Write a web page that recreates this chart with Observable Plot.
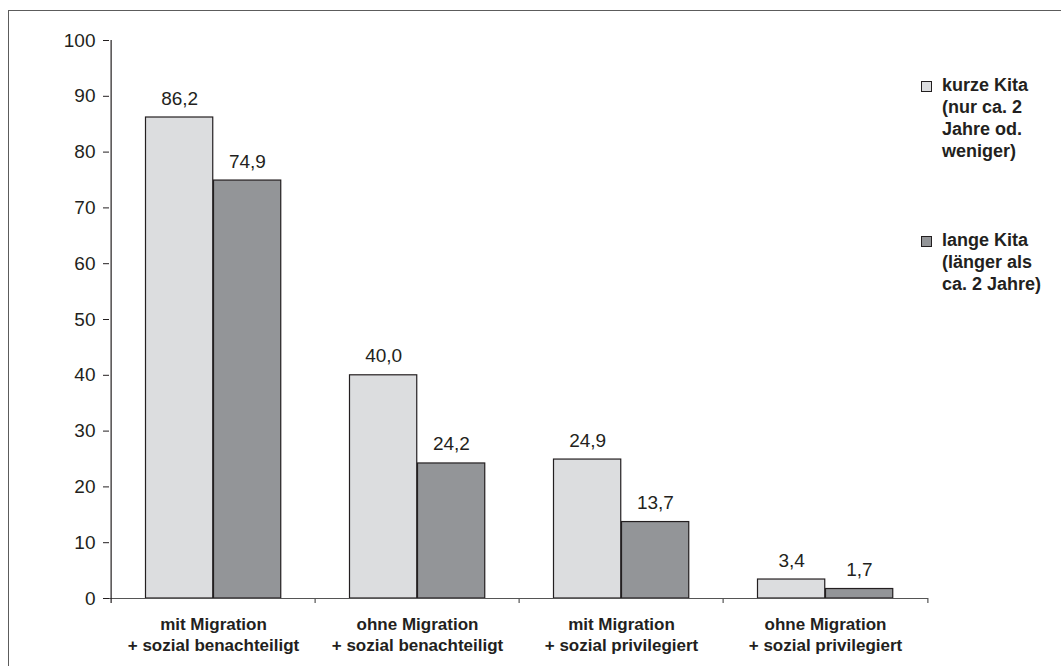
<!DOCTYPE html>
<html lang="de">
<head>
<meta charset="utf-8">
<script src="https://cdn.jsdelivr.net/npm/d3@7"></script>
<script src="https://cdn.jsdelivr.net/npm/@observablehq/plot@0.6"></script>
<style>
  html, body { margin: 0; padding: 0; background: #fff; overflow: hidden; }
  #wrap { position: relative; width: 1061px; height: 666px; }
  #border {
    position: absolute; left: 8px; top: 10px; width: 2000px; height: 2000px;
    border-left: 1.5px solid #5c5c5c; border-top: 1.5px solid #5c5c5c;
  }
  .legend {
    position: absolute; left: 921px;
    font-family: "Liberation Sans", Arial, sans-serif; font-weight: bold;
    font-size: 18px; line-height: 22px; color: #231f20;
  }
  .legend .swatch {
    position: absolute; left: 0; top: 7px; width: 9px; height: 9px;
    border: 1px solid #231f20;
  }
  .legend .lines { margin-left: 21px; white-space: nowrap; }
</style>
</head>
<body>
<div id="wrap"><div id="border"></div></div>
<script>
// Anteil (%) nach Gruppe und Kita-Dauer
const categories = [
  "mit Migration\n+ sozial benachteiligt",
  "ohne Migration\n+ sozial benachteiligt",
  "mit Migration\n+ sozial privilegiert",
  "ohne Migration\n+ sozial privilegiert"
];
const kurzeKita = [86.2, 40.0, 24.9, 3.4];
const langeKita = [74.9, 24.2, 13.7, 1.7];
const yTicks = [0, 10, 20, 30, 40, 50, 60, 70, 80, 90, 100];
const legendKurz = ["kurze Kita", "(nur ca. 2", "Jahre od.", "weniger)"];
const legendLang = ["lange Kita", "(länger als", "ca. 2 Jahre)"];

const colorKurz = "#dcdddf";
const colorLang = "#939598";
const ink = "#231f20";

const W = 1061, H = 666;
const margin = {top: 40, right: 133, bottom: 68, left: 109};
const band = (W - margin.left - margin.right) / categories.length;
const pad = 34.5;   // gap between group and band edge
const bw = 68;      // width of one bar

const kurzRows = categories.map((c, i) => ({cat: c, value: kurzeKita[i]}));
const langRows = categories.map((c, i) => ({cat: c, value: langeKita[i]}));
const fmt = d => d.value.toFixed(1).replace(".", ",");
const off = band / 2 - pad - bw / 2;

const chart = Plot.plot({
  width: W,
  height: H,
  marginTop: margin.top,
  marginRight: margin.right,
  marginBottom: margin.bottom,
  marginLeft: margin.left,
  style: {fontFamily: "'Liberation Sans', Arial, sans-serif", color: ink, background: "transparent", overflow: "visible"},
  x: {domain: categories, padding: 0},
  y: {domain: [0, 100]},
  marks: [
    Plot.barY(kurzRows, {x: "cat", y: "value", fill: colorKurz, stroke: ink, strokeWidth: 1.2,
      insetLeft: pad, insetRight: band - pad - bw}),
    Plot.barY(langRows, {x: "cat", y: "value", fill: colorLang, stroke: ink, strokeWidth: 1.2,
      insetLeft: pad + bw, insetRight: band - pad - 2 * bw}),
    Plot.text(kurzRows, {x: "cat", y: "value", text: fmt, dx: -off, dy: -13, lineAnchor: "bottom", fontSize: 19, fill: ink}),
    Plot.text(langRows, {x: "cat", y: "value", text: fmt, dx: off, dy: -13, lineAnchor: "bottom", fontSize: 19, fill: ink}),
    // baseline
    Plot.ruleY([0], {stroke: "#555", strokeWidth: 1.2}),
    // y axis line (left edge of first band)
    Plot.ruleX([categories[0]], {x: d => d, y1: 100, y2: 0, dx: -band / 2, insetBottom: -5, stroke: ink, strokeWidth: 1.2}),
    // separators between groups
    Plot.ruleX(categories.slice(1), {x: d => d, y1: 0, y2: 0, dx: -band / 2, insetBottom: -5, stroke: "#555", strokeWidth: 1.2}),
    Plot.ruleX([categories[categories.length - 1]], {x: d => d, y1: 0, y2: 0, dx: band / 2, insetBottom: -5, stroke: "#555", strokeWidth: 1.2}),
    Plot.axisY({ticks: yTicks, tickSize: 6, tickPadding: 8, fontSize: 19, label: null, stroke: ink}),
    Plot.axisX({tickSize: 0, tickPadding: 17, fontSize: 17, fontWeight: "bold", lineHeight: 1.22, label: null})
  ]
});

const wrap = document.getElementById("wrap");
wrap.appendChild(chart);
chart.style.position = "absolute";
chart.style.left = "0";
chart.style.top = "0";

function addLegend(lines, color, top) {
  const div = document.createElement("div");
  div.className = "legend";
  div.style.top = top + "px";
  const sw = document.createElement("div");
  sw.className = "swatch";
  sw.style.background = color;
  div.appendChild(sw);
  const txt = document.createElement("div");
  txt.className = "lines";
  txt.innerHTML = lines.join("<br>");
  div.appendChild(txt);
  wrap.appendChild(div);
}
addLegend(legendKurz, colorKurz, 74);
addLegend(legendLang, colorLang, 229);
</script>
</body>
</html>
